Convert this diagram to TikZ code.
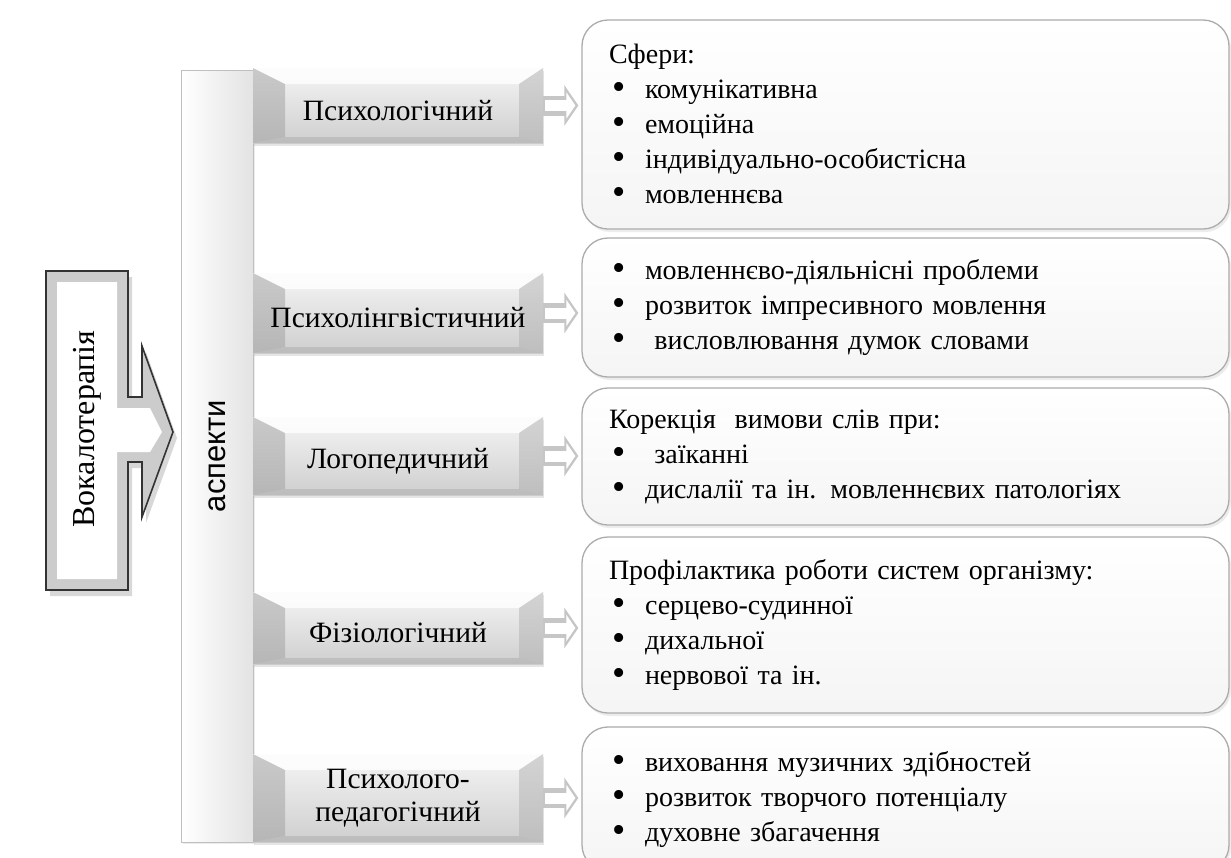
\documentclass[tikz,border=0pt]{standalone}
\usepackage{fontspec}
\usepackage{graphicx}
\setmainfont{Liberation Serif}
\newfontfamily\arialfont{Liberation Sans}
\usetikzlibrary{arrows.meta,shadows}
\newcommand{\itm}[1]{\makebox[36pt][l]{\hspace{3pt}\raisebox{-1pt}{\scalebox{1.35}{\textbullet}}}#1}
\newcommand{\low}[1]{\raisebox{-5pt}[\height][\depth]{#1}}

\begin{document}
\begin{tikzpicture}[x=1pt,y=-1pt]
\tikzstyle{every node}=[font=\fontsize{28}{35}\selectfont];
\tikzstyle{bar}=[draw=gray!50,line width=1pt,inner sep=0pt,
  left color=white,right color=gray!22,
  drop shadow={opacity=0.15,shadow xshift=2pt,shadow yshift=-2pt}];
\tikzstyle{aspect}=[minimum width=290pt,inner sep=0pt,align=center,
  font=\fontsize{29.5}{33}\selectfont,
  top color=gray!8,bottom color=gray!38,
  drop shadow={opacity=0.2,shadow xshift=1pt,shadow yshift=-3pt},
  path picture={
    \coordinate (nw) at (path picture bounding box.north west);
    \coordinate (ne) at (path picture bounding box.north east);
    \coordinate (sw) at (path picture bounding box.south west);
    \coordinate (se) at (path picture bounding box.south east);
    \fill[white,opacity=0.8] (nw) -- (ne) -- ([xshift=-24pt,yshift=-16pt]ne) -- ([xshift=32pt,yshift=-16pt]nw) -- cycle;
    \fill[gray!75,opacity=0.5] (nw) -- ([xshift=32pt,yshift=-16pt]nw) -- ([xshift=32pt,yshift=6pt]sw) -- (sw) -- cycle;
    \fill[gray!65,opacity=0.45] (ne) -- ([xshift=-24pt,yshift=-16pt]ne) -- ([xshift=-24pt,yshift=6pt]se) -- (se) -- cycle;
    \fill[gray!65,opacity=0.5] (sw) -- ([xshift=32pt,yshift=6pt]sw) -- ([xshift=-24pt,yshift=6pt]se) -- (se) -- cycle;
  }];
\tikzstyle{info}=[draw=gray!65,line width=1.3pt,rounded corners=26pt,
  top color=white,bottom color=gray!8,
  text width=593pt,inner xsep=27pt,align=left,
  drop shadow={opacity=0.15,shadow xshift=2pt,shadow yshift=-3pt}];
\tikzstyle{linkout}=[gray!45,line width=20pt,shorten >=3pt,-{Triangle[length=14pt,width=40pt]}];
\tikzstyle{linkin}=[white,line width=11pt,shorten >=6pt,shorten <=2pt,-{Triangle[length=9pt,width=26pt]}];

\path[use as bounding box,clip] (0,0) rectangle (1231,857);
\fill[white] (0,0) rectangle (1231,857);

% aspects bar
\node[bar,rotate=90,minimum width=772pt,minimum height=72pt,
  font=\arialfont\fontsize{31}{35}\selectfont] (asp) at (217,456) {аспекти};

% aspects
\node[aspect,minimum height=75pt] (t-psy) at (398,105.5) {\low{Психологічний}};
\node[aspect,minimum height=80pt] (t-ling) at (398,313) {\low{Психолінгвістичний}};
\node[aspect,minimum height=78pt] (t-logo) at (398,456) {\low{Логопедичний}};
\node[aspect,minimum height=72pt] (t-phys) at (398,628) {\low{Фізіологічний}};
\node[aspect,minimum height=88pt] (t-ped) at (398,798) {Психолого-\\педагогічний};

% contents
\node[info,minimum height=209pt] (b-psy) at (905.5,124.5) {Сфери:\\
  \itm{комунікативна}\\
  \itm{емоційна}\\
  \itm{індивідуально-особистісна}\\
  \itm{мовленнєва}};
\node[info,minimum height=139pt] (b-ling) at (905.5,307.5) {\itm{мовленнєво-діяльнісні проблеми}\\
  \itm{розвиток імпресивного мовлення}\\
  \itm{\ висловлювання думок словами}};
\node[info,minimum height=137pt] (b-logo) at (905.5,456.5) {Корекція\ \ вимови слів при:\\
  \itm{\ заїканні}\\
  \itm{дислалії та ін. мовленнєвих патологіях}};
\node[info,minimum height=176pt] (b-phys) at (905.5,625) {Профілактика роботи систем організму:\\
  \itm{серцево-судинної}\\
  \itm{дихальної}\\
  \itm{нервової та ін.}};
\node[info,minimum height=144pt] (b-ped) at (905.5,799) {\itm{виховання музичних здібностей}\\
  \itm{розвиток творчого потенціалу}\\
  \itm{духовне збагачення}};

\foreach \a in {psy,ling,logo,phys,ped} {
  \draw[linkout] (t-\a.east) -- (t-\a.east -| b-\a.west);
  \draw[linkin] (t-\a.east) -- (t-\a.east -| b-\a.west);
}

% vocal therapy arrow
\draw[fill=gray!40,draw=black!80,line width=1.6pt,
  drop shadow={opacity=0.3,shadow xshift=4pt,shadow yshift=-6pt}]
  (46,271) -- (128,271) -- (128,397) -- (142,397) -- (142,346) -- (173,432)
  -- (142,517) -- (142,462) -- (128,462) -- (128,590) -- (46,590) -- cycle;
\fill[white] (57,282) -- (117,282) -- (117,408) -- (150,408) -- (162,432)
  -- (150,452) -- (117,452) -- (117,579) -- (57,579) -- cycle;
\node[rotate=90,font=\fontsize{32}{36}\selectfont] (voc) at (87,429) {Вокалотерапія};
\end{tikzpicture}
\end{document}
